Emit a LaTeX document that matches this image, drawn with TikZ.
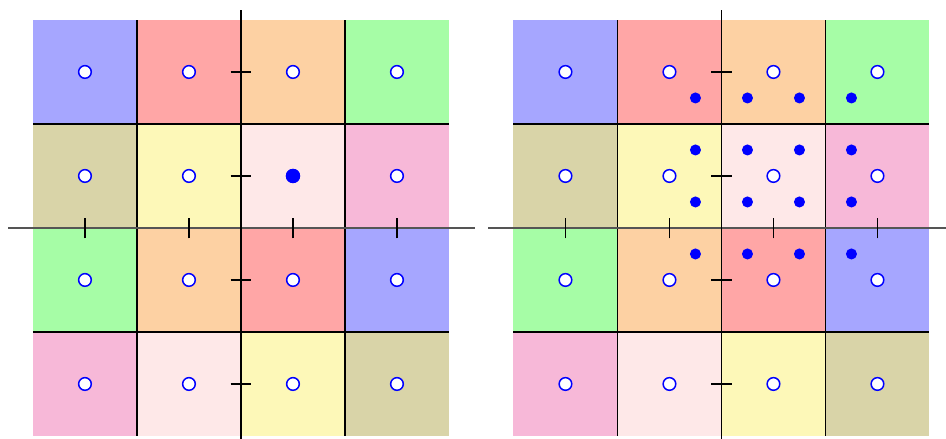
\documentclass[tikz,border=0pt]{standalone}
\usepackage{xcolor}
\usepackage{tikz}
\definecolor{cellblue}{HTML}{A6A6FF}
\definecolor{cellred}{HTML}{FFA6A6}
\definecolor{cellorange}{HTML}{FDD1A3}
\definecolor{cellgreen}{HTML}{A6FDA6}
\definecolor{cellkhaki}{HTML}{D9D4A8}
\definecolor{cellyellow}{HTML}{FDF8B8}
\definecolor{celllight}{HTML}{FEE8E8}
\definecolor{cellpink}{HTML}{F7B8D8}
\definecolor{sitegray}{HTML}{555555}

\begin{document}
\begin{tikzpicture}[x=2.08cm, y=2.08cm,
    site/.style={circle, draw=blue, fill=white, line width=0.85pt,
                 inner sep=0pt, minimum size=7.2pt},
    bigdot/.style={circle, fill=blue, inner sep=0pt, minimum size=8.2pt},
    subdot/.style={circle, fill=blue, inner sep=0pt, minimum size=6.3pt},
    gridline/.style={black, line width=0.75pt},
    axisline/.style={sitegray, line width=0.9pt},
    tickmark/.style={black, line width=0.8pt}]
    \useasboundingbox (-2.317,-2.029) rectangle (6.779,2.192);
    \foreach \pan/\sh in {L/0, R/4.62}{
      \begin{scope}[shift={(\sh,0)}]
        % coloured cells, row by row from the top
        \foreach \c [count=\k from 0] in {cellblue,cellred,cellorange,cellgreen,
            cellkhaki,cellyellow,celllight,cellpink,
            cellgreen,cellorange,cellred,cellblue,
            cellpink,celllight,cellyellow,cellkhaki}{
          \pgfmathtruncatemacro\col{mod(\k,4)}
          \pgfmathtruncatemacro\row{div(\k,4)}
          \fill[\c] (\col-2,1-\row) rectangle ++(1,1);
        }
        \foreach \t in {-1,1}{
          \draw[gridline] (\t,-2) -- (\t,2);
          \draw[gridline] (-2,\t) -- (2,\t);
        }
        \draw[axisline] (-2.24,0) -- (2.25,0);
        \draw[gridline] (0,-2.1) -- (0,2.1);
        \foreach \t in {-1.5,-0.5,0.5,1.5}{
          \draw[tickmark] (\t,-0.1) -- (\t,0.1);
          \draw[tickmark] (-0.1,\t) -- (0.1,\t);
        }
        \foreach \x [count=\i] in {-1.5,-0.5,0.5,1.5}
          \foreach \y [count=\j] in {-1.5,-0.5,0.5,1.5}
            \node[site] (\pan-\i-\j) at (\x,\y) {};
      \end{scope}
    }
    % left: one filled site, right: the finer 4x4 set
    \node[bigdot] (L-fill) at (0.5,0.5) {};
    \begin{scope}[shift={(4.62,0)}]
      \foreach \dx [count=\i] in {-0.75,-0.25,0.25,0.75}
        \foreach \dy [count=\j] in {-0.75,-0.25,0.25,0.75}
          \node[subdot] (R-sub-\i-\j) at (0.5+\dx,0.5+\dy) {};
    \end{scope}
\end{tikzpicture}
\end{document}
